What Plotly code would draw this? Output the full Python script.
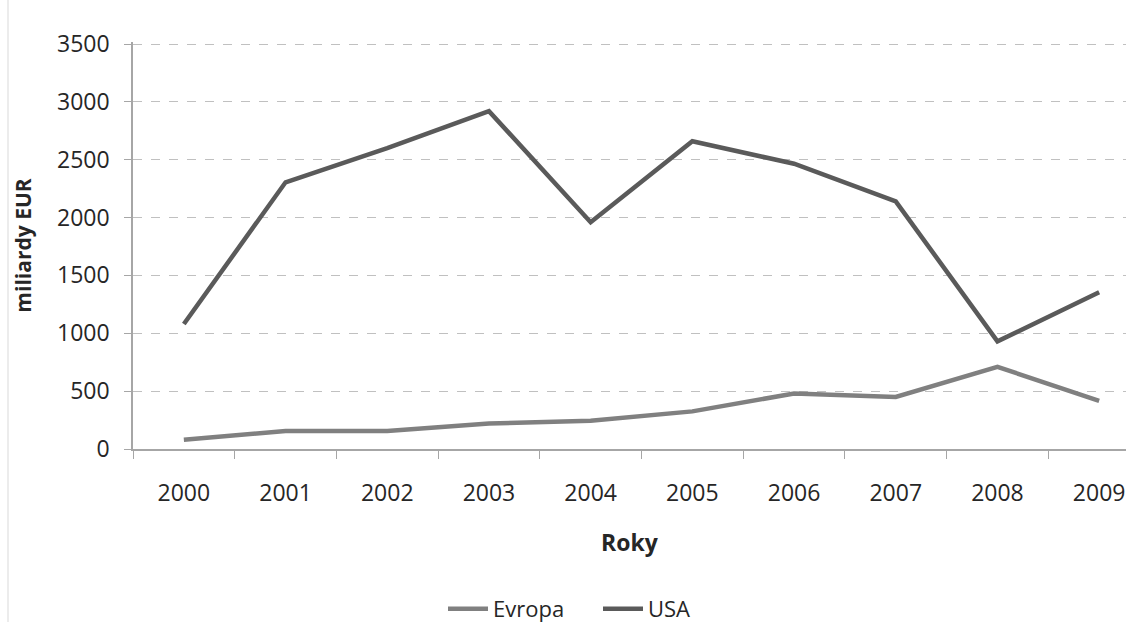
import plotly.graph_objects as go

years = ["2000", "2001", "2002", "2003", "2004", "2005", "2006", "2007", "2008", "2009"]
evropa = [80, 155, 155, 220, 245, 325, 480, 450, 710, 415]
usa = [1080, 2305, 2600, 2920, 1960, 2660, 2465, 2140, 930, 1355]
y_ticks = [0, 500, 1000, 1500, 2000, 2500, 3000, 3500]

W, H = 1126, 626
L, T, B = 133, 42, 177
FONT = "Open Sans"
FS = 23
TXT = "#262626"
AXIS = "#a6a6a6"

fig = go.Figure()
fig.add_trace(go.Scatter(x=years, y=evropa, name="Evropa", mode="lines",
                         line=dict(color="#808080", width=4.5)))
fig.add_trace(go.Scatter(x=years, y=usa, name="USA", mode="lines",
                         line=dict(color="#5a5a5a", width=4.5)))

# category width in px ~101.7, the plot area ends at the page edge
plot_w = W - L
plot_h = H - T - B
cat_px = 101.7
x_end = -0.5 + plot_w / cat_px
# small headroom so the 3500 gridline is kept off the plot edge
y_top = 3500 * plot_h / (plot_h - 2)

fig.update_layout(
    width=W, height=H,
    margin=dict(l=L, r=0, t=T, b=B, autoexpand=False),
    paper_bgcolor="white", plot_bgcolor="white",
    font=dict(family=FONT, size=FS, color=TXT),
    showlegend=True,
    legend=dict(orientation="h", x=(443 - L) / plot_w, xanchor="left",
                y=-(609 - (T + plot_h)) / plot_h, yanchor="middle",
                font=dict(family=FONT, size=22, color=TXT),
                entrywidth=100, entrywidthmode="pixels",
                itemwidth=40, tracegroupgap=0),
    xaxis=dict(type="category", range=[-0.5, x_end],
               showline=True, linecolor=AXIS, linewidth=1.5,
               ticks="outside", tickson="boundaries", ticklen=8, tickcolor=AXIS,
               ticklabelstandoff=23,
               showgrid=False, zeroline=False,
               tickfont=dict(family=FONT, size=FS, color=TXT),
               title=dict(text="<b>Roky</b>", standoff=28,
                          font=dict(family=FONT, size=FS, color=TXT))),
    yaxis=dict(range=[0, y_top], tickvals=y_ticks,
               showline=True, linecolor=AXIS, linewidth=1.5,
               ticks="outside", ticklen=7, tickcolor=AXIS,
               ticklabelstandoff=10,
               showgrid=True, gridcolor="#c0c0c0", griddash="dash", gridwidth=1,
               zeroline=False,
               tickfont=dict(family=FONT, size=FS, color=TXT),
               title=dict(text="<b>miliardy EUR</b>", standoff=20,
                          font=dict(family=FONT, size=21, color=TXT))),
)

# thin chart frame on the left
fig.add_shape(type="line", xref="paper", yref="paper",
              x0=(8 - L) / plot_w, x1=(8 - L) / plot_w,
              y0=-(B - 4) / plot_h, y1=1 + (T) / plot_h,
              line=dict(color="#d9d9d9", width=1))

fig.write_html("out.html")
